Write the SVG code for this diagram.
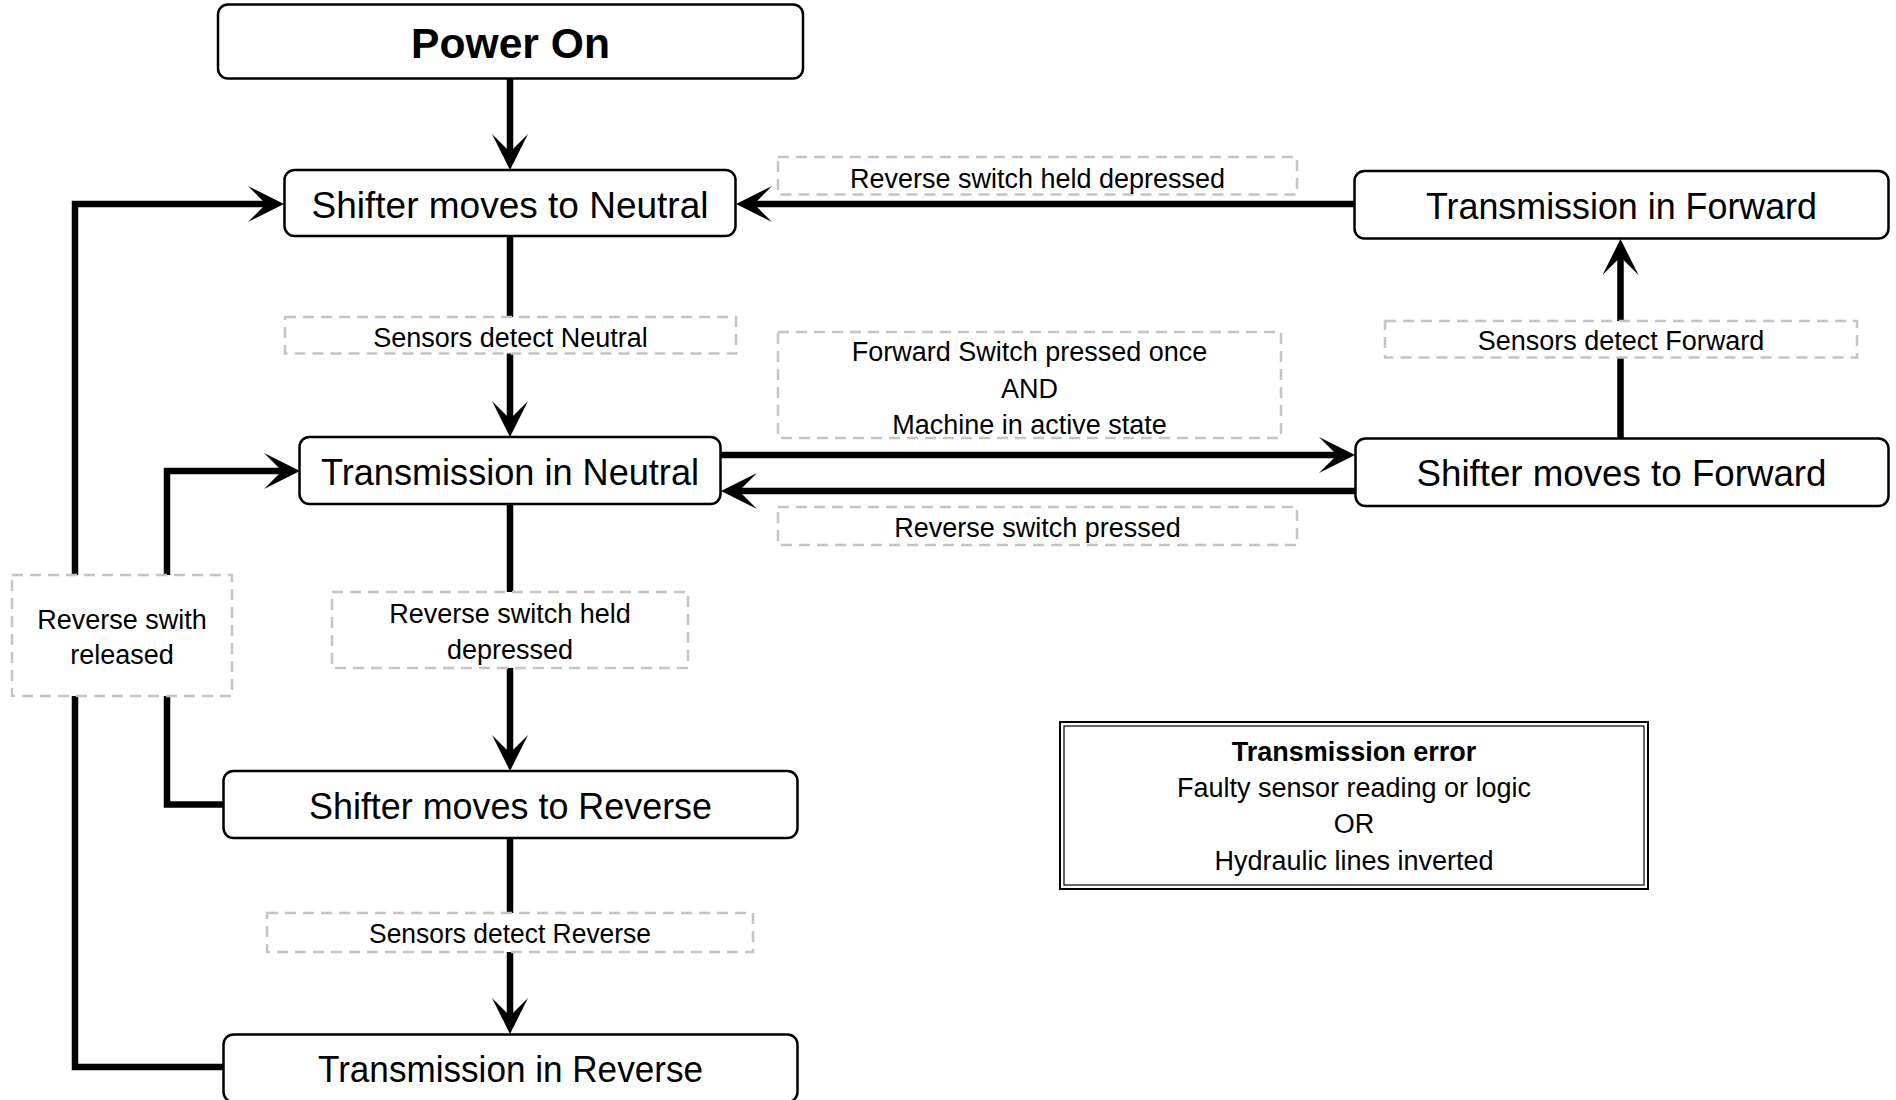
<svg xmlns="http://www.w3.org/2000/svg" width="1896" height="1100" viewBox="0 0 1896 1100">
<style>
.node{fill:#fff;stroke:#000;stroke-width:2.5}
.nt{font-family:"Liberation Sans",Arial,sans-serif;font-size:37px;fill:#000;text-anchor:middle}
.bt{font-family:"Liberation Sans",Arial,sans-serif;font-size:42px;font-weight:bold;fill:#000;text-anchor:middle}
.lbl{fill:#fff;stroke:#c4c4c4;stroke-width:2.5;stroke-dasharray:11 7}
.lt{font-family:"Liberation Sans",Arial,sans-serif;font-size:27px;fill:#000;text-anchor:middle}
.conn{fill:none;stroke:#000;stroke-width:6.5;stroke-linejoin:miter}
</style>
<defs>
<marker id="arr" markerUnits="userSpaceOnUse" markerWidth="40" markerHeight="40" refX="0" refY="0" orient="auto" overflow="visible">
<path d="M18,0 L-18,-18 L0,0 L-18,18 Z" fill="#000"/>
</marker>
</defs>
<rect width="1896" height="1100" fill="#fff"/>
<g id="connectors">
<path class="conn" marker-end="url(#arr)" d="M510,79 L510,152"/>
<path class="conn" marker-end="url(#arr)" d="M510,236 L510,419"/>
<path class="conn" marker-end="url(#arr)" d="M510,504 L510,753"/>
<path class="conn" marker-end="url(#arr)" d="M510,838 L510,1016"/>
<path class="conn" marker-end="url(#arr)" d="M1355,204 L754,204"/>
<path class="conn" marker-end="url(#arr)" d="M1620.5,438 L1620.5,257"/>
<path class="conn" marker-end="url(#arr)" d="M721,455 L1337,455"/>
<path class="conn" marker-end="url(#arr)" d="M1355,491 L739,491"/>
<path class="conn" marker-end="url(#arr)" d="M223,804.5 L167,804.5 L167,471 L282,471"/>
<path class="conn" marker-end="url(#arr)" d="M223,1067 L75,1067 L75,204 L266,204"/>
</g>
<g id="power-on">
<rect class="node" x="218" y="4.5" width="585" height="74" rx="10"/>
<text class="bt" x="510.5" y="58" textLength="199" lengthAdjust="spacingAndGlyphs">Power On</text>
</g>
<g id="shifter-neutral">
<rect class="node" x="284.5" y="170" width="451" height="66" rx="10"/>
<text class="nt" x="510" y="218" textLength="397" lengthAdjust="spacingAndGlyphs">Shifter moves to Neutral</text>
</g>
<g id="transmission-forward">
<rect class="node" x="1354.5" y="171" width="534" height="67.5" rx="10"/>
<text class="nt" x="1621.5" y="219" textLength="391" lengthAdjust="spacingAndGlyphs">Transmission in Forward</text>
</g>
<g id="transmission-neutral">
<rect class="node" x="299.5" y="437" width="421" height="67" rx="10"/>
<text class="nt" x="510" y="485" textLength="378" lengthAdjust="spacingAndGlyphs">Transmission in Neutral</text>
</g>
<g id="shifter-forward">
<rect class="node" x="1355.5" y="438.5" width="533" height="67.5" rx="10"/>
<text class="nt" x="1621.5" y="486" textLength="410" lengthAdjust="spacingAndGlyphs">Shifter moves to Forward</text>
</g>
<g id="shifter-reverse">
<rect class="node" x="223.5" y="771" width="574" height="67" rx="10"/>
<text class="nt" x="510.5" y="819" textLength="403" lengthAdjust="spacingAndGlyphs">Shifter moves to Reverse</text>
</g>
<g id="transmission-reverse">
<rect class="node" x="223.5" y="1034.5" width="574" height="67.5" rx="10"/>
<text class="nt" x="510.5" y="1082" textLength="385" lengthAdjust="spacingAndGlyphs">Transmission in Reverse</text>
</g>
<g id="transmission-error">
<rect x="1060" y="722" width="588" height="167" fill="#fff" stroke="#000" stroke-width="2"/>
<rect x="1064" y="726" width="580" height="159" fill="none" stroke="#000" stroke-width="1.2"/>
<text class="lt" x="1354" y="760.5" font-weight="bold">Transmission error</text>
<text class="lt" x="1354" y="797">Faulty sensor reading or logic</text>
<text class="lt" x="1354" y="833">OR</text>
<text class="lt" x="1354" y="869.5">Hydraulic lines inverted</text>
</g>
<g id="label-rev-held-top">
<rect class="lbl" x="778" y="157" width="519" height="37.5"/>
<text class="lt" x="1037.5" y="187.5">Reverse switch held depressed</text>
</g>
<g id="label-sensors-neutral">
<rect class="lbl" x="285" y="317" width="451" height="36.5"/>
<text class="lt" x="510.5" y="346.5">Sensors detect Neutral</text>
</g>
<g id="label-forward-switch">
<rect class="lbl" x="778" y="332" width="503" height="106"/>
<text class="lt" x="1029.5" y="360.5">Forward Switch pressed once</text>
<text class="lt" x="1029.5" y="398">AND</text>
<text class="lt" x="1029.5" y="434">Machine in active state</text>
</g>
<g id="label-sensors-forward">
<rect class="lbl" x="1385" y="321" width="472" height="36.5"/>
<text class="lt" x="1621" y="349.5">Sensors detect Forward</text>
</g>
<g id="label-rev-pressed">
<rect class="lbl" x="778" y="507" width="519" height="38"/>
<text class="lt" x="1037.5" y="537">Reverse switch pressed</text>
</g>
<g id="label-rev-released">
<rect class="lbl" x="12" y="575" width="220" height="121"/>
<text class="lt" x="122" y="629">Reverse swith</text>
<text class="lt" x="122" y="664">released</text>
</g>
<g id="label-rev-held">
<rect class="lbl" x="332" y="592" width="356" height="76"/>
<text class="lt" x="510" y="623">Reverse switch held</text>
<text class="lt" x="510" y="659">depressed</text>
</g>
<g id="label-sensors-reverse">
<rect class="lbl" x="267" y="913" width="486" height="39"/>
<text class="lt" x="510" y="943" textLength="282" lengthAdjust="spacingAndGlyphs">Sensors detect Reverse</text>
</g>
</svg>
